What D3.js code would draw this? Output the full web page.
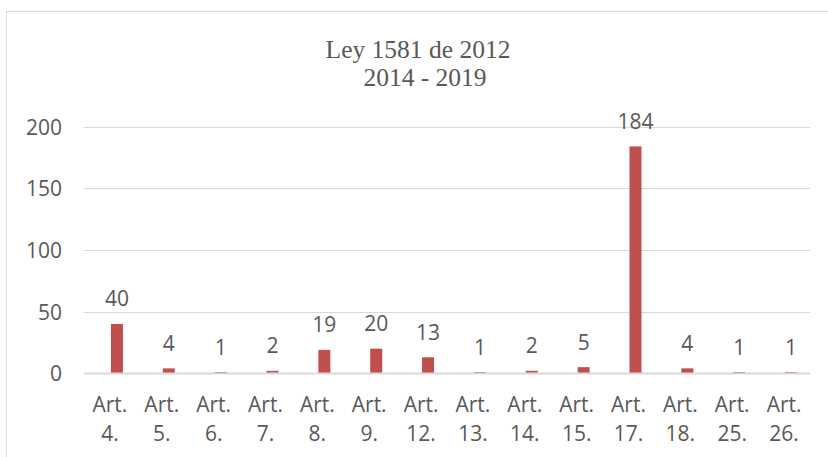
<!DOCTYPE html>
<html>
<head>
<meta charset="utf-8">
<script src="https://cdn.jsdelivr.net/npm/d3@7"></script>
<style>
  html, body { margin: 0; padding: 0; background: #fff; }
  svg { display: block; }
</style>
</head>
<body>
<script>
const categories = ["Art. 4.", "Art. 5.", "Art. 6.", "Art. 7.", "Art. 8.", "Art. 9.", "Art. 12.", "Art. 13.", "Art. 14.", "Art. 15.", "Art. 17.", "Art. 18.", "Art. 25.", "Art. 26."];
const values = [40, 4, 1, 2, 19, 20, 13, 1, 2, 5, 184, 4, 1, 1];
const yTicks = [0, 50, 100, 150, 200];
const titleLines = ["Ley 1581 de 2012", "2014 - 2019"];

const W = 828, H = 457;
const plot = { left: 84, right: 810, top: 126.7, bottom: 373.3 };

const svg = d3.select("body").append("svg").attr("width", W).attr("height", H);

// chart border
svg.append("rect")
  .attr("x", 6.5).attr("y", 11.5)
  .attr("width", W + 10).attr("height", H + 10)
  .attr("fill", "#fff").attr("stroke", "#d9d9d9").attr("stroke-width", 1);

const x = d3.scaleBand().domain(categories).range([plot.left, plot.right]).paddingInner(0).paddingOuter(0);
const y = d3.scaleLinear().domain([0, 200]).range([plot.bottom, plot.top]);

const sans = "'Open Sans', sans-serif";
const grey = "#595959";

// gridlines (except baseline)
svg.append("g").selectAll("line").data(yTicks.filter(d => d !== 0)).join("line")
  .attr("x1", plot.left).attr("x2", plot.right)
  .attr("y1", d => Math.round(y(d)) + 0.5).attr("y2", d => Math.round(y(d)) + 0.5)
  .attr("stroke", "#d9d9d9").attr("stroke-width", 1.2);

// y axis labels
const yAxis = d3.axisLeft(y).tickValues(yTicks).tickSize(0).tickPadding(0);
const gy = svg.append("g").attr("transform", "translate(62,0)").call(yAxis);
gy.select(".domain").remove();
gy.selectAll("text")
  .attr("font-family", sans).attr("font-size", 21).attr("fill", grey)
  .attr("dy", "0.36em");

// bars
const bw = x.bandwidth();
svg.append("g").selectAll("rect").data(values).join("rect")
  .attr("x", (d, i) => x(categories[i]) + bw / 2 + 1)
  .attr("width", 12)
  .attr("y", d => y(d))
  .attr("height", d => y(0) - y(d))
  .attr("fill", "#c0504d");

// baseline on top
svg.append("line")
  .attr("x1", plot.left).attr("x2", plot.right)
  .attr("y1", y(0) + 0.1).attr("y2", y(0) + 0.1)
  .attr("stroke", "#d9d9d9").attr("stroke-width", 2);

// data labels
svg.append("g").selectAll("text").data(values).join("text")
  .attr("x", (d, i) => x(categories[i]) + bw / 2 + 7)
  .attr("y", d => y(d) - 17.5)
  .attr("text-anchor", "middle")
  .attr("font-family", sans).attr("font-size", 21).attr("fill", grey)
  .text(d => d);

// x axis labels (two lines)
const xAxis = d3.axisBottom(x).tickSize(0).tickFormat("");
const gx = svg.append("g").attr("transform", `translate(0,${plot.bottom})`).call(xAxis);
gx.select(".domain").remove();
gx.selectAll(".tick").each(function(d) {
  const parts = d.split(" ");
  const t = d3.select(this).append("text")
    .attr("text-anchor", "middle")
    .attr("font-family", sans).attr("font-size", 21).attr("fill", grey);
  t.append("tspan").attr("x", 0).attr("y", 38.4).text(parts[0]);
  t.append("tspan").attr("x", 0).attr("y", 67.5).text(parts[1]);
});

// title (one text element, two lines)
const titleX = [418, 425];
const titleY = [58, 86];
const title = svg.append("text")
  .attr("text-anchor", "middle")
  .attr("font-family", "'Liberation Serif', 'Times New Roman', serif")
  .attr("font-size", 25.5).attr("fill", grey);
title.selectAll("tspan").data(titleLines).join("tspan")
  .attr("x", (d, i) => titleX[i]).attr("y", (d, i) => titleY[i])
  .text(d => d);
</script>
</body>
</html>
